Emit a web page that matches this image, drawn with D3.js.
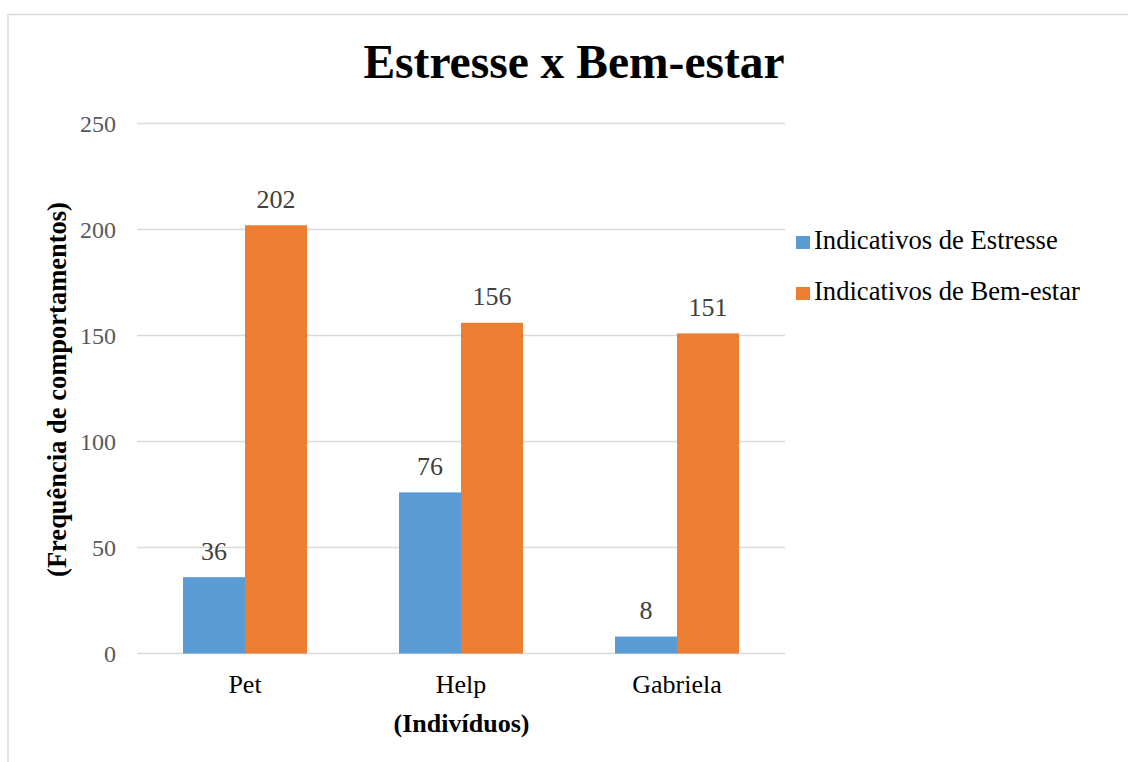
<!DOCTYPE html>
<html><head><meta charset="utf-8">
<script src="https://cdn.jsdelivr.net/npm/d3@7"></script>
<style>html,body{margin:0;padding:0;background:#fff;} svg{display:block;}</style>
</head><body>
<script>
const categories = ["Pet", "Help", "Gabriela"];
const seriesNames = ["Indicativos de Estresse", "Indicativos de Bem-estar"];
const estresse = [36, 76, 8];
const bemEstar = [202, 156, 151];
const yTicks = [0, 50, 100, 150, 200, 250];
const colors = ["#5B9BD5", "#ED7D31"];

(function () {
const W = 1128, H = 762;
const font = "'Liberation Serif','Times New Roman',serif";
const svg = d3.select("body").append("svg").attr("width", W).attr("height", H);

svg.append("rect").attr("x", 8).attr("y", 14.5).attr("width", W).attr("height", H)
  .attr("fill", "#fff").attr("stroke", "#d9d9d9").attr("stroke-width", 1.5);

const pL = 137, pR = 785, pT = 123.5, pB = 653.5;
const x = d3.scaleBand().domain(categories).range([pL, pR]).paddingInner(0.426).paddingOuter(0.213);
const x1 = d3.scaleBand().domain([0, 1]).range([0, x.bandwidth()]);
const y = d3.scaleLinear().domain([0, 250]).range([pB, pT]);

// gridlines
svg.append("g").selectAll("line").data(yTicks).join("line")
  .attr("x1", pL).attr("x2", pR).attr("y1", d => y(d)).attr("y2", d => y(d))
  .attr("stroke", "#d9d9d9").attr("stroke-width", 1.3);

// y axis labels
const yAxis = d3.axisLeft(y).tickValues(yTicks).tickSize(0).tickPadding(21);
const gy = svg.append("g").attr("transform", `translate(${pL},0)`).call(yAxis);
gy.select(".domain").remove();
gy.selectAll("text").attr("font-family", font).attr("font-size", 24).attr("fill", "#595959");

const data = categories.map((c, i) => ({ c, v: [estresse[i], bemEstar[i]] }));
const groups = svg.append("g").selectAll("g").data(data).join("g")
  .attr("transform", d => `translate(${x(d.c)},0)`);
groups.selectAll("rect").data(d => d.v.map((v, k) => ({ v, k }))).join("rect")
  .attr("x", d => x1(d.k)).attr("width", x1.bandwidth())
  .attr("y", d => y(d.v)).attr("height", d => y(0) - y(d.v))
  .attr("fill", d => colors[d.k]);
groups.selectAll("text.lbl").data(d => d.v.map((v, k) => ({ v, k }))).join("text")
  .attr("class", "lbl")
  .attr("x", d => x1(d.k) + x1.bandwidth() / 2).attr("y", d => y(d.v) - 17.5)
  .attr("text-anchor", "middle").attr("font-family", font).attr("font-size", 26)
  .attr("fill", "#404040").text(d => d.v);

// x axis
const xAxis = d3.axisBottom(x).tickSize(0).tickPadding(21);
const gx = svg.append("g").attr("transform", `translate(0,${pB})`).call(xAxis);
gx.select(".domain").remove();
gx.selectAll("text").attr("font-family", font).attr("font-size", 26).attr("fill", "#000");

// title
svg.append("text").attr("x", 574).attr("y", 78).attr("text-anchor", "middle")
  .attr("font-family", font).attr("font-weight", "bold").attr("font-size", 47.5)
  .attr("fill", "#000").text("Estresse x Bem-estar");

// axis titles
svg.append("text").attr("x", 461.5).attr("y", 731.5).attr("text-anchor", "middle")
  .attr("font-family", font).attr("font-weight", "bold").attr("font-size", 26)
  .text("(Indivíduos)");
svg.append("text").attr("transform", "translate(66,389.5) rotate(-90)").attr("text-anchor", "middle")
  .attr("font-family", font).attr("font-weight", "bold").attr("font-size", 26.5)
  .text("(Frequência de comportamentos)");

// legend
const lg = svg.append("g").selectAll("g").data(seriesNames).join("g")
  .attr("transform", (d, i) => `translate(796,${249 + i * 51})`);
lg.append("rect").attr("x", 0).attr("y", -13).attr("width", 14).attr("height", 13)
  .attr("fill", (d, i) => colors[i]);
lg.append("text").attr("x", 18).attr("y", 0).attr("font-family", font).attr("font-size", 26.6)
  .attr("fill", "#000").text(d => d);
})();
</script>
</body></html>
